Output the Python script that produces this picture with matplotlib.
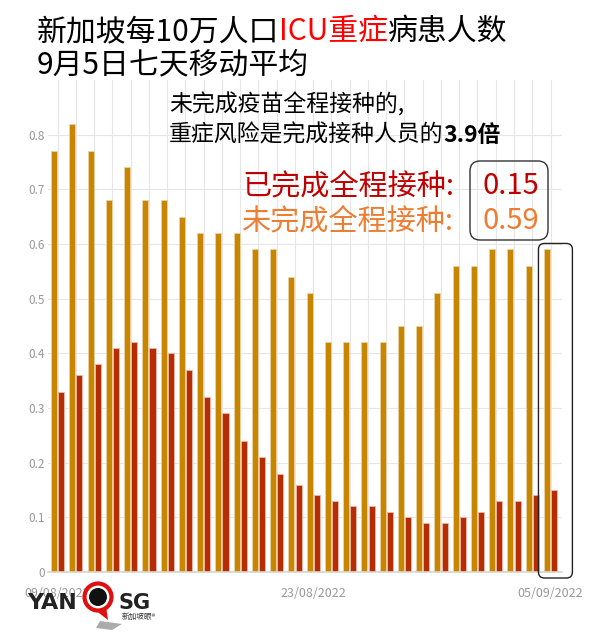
import numpy as np
import pandas as pd
import matplotlib
matplotlib.use("Agg")
import matplotlib.pyplot as plt
from matplotlib.patches import FancyBboxPatch, Circle, Polygon

plt.rcParams['font.family'] = ['Noto Sans CJK SC', 'DejaVu Sans']

# 7-day moving average of ICU cases per 100k, 09/08/2022 - 05/09/2022
dates = pd.date_range("2022-08-09", "2022-09-05").strftime("%d/%m/%Y").tolist()
unvax = [0.77, 0.82, 0.77, 0.68, 0.74, 0.68, 0.68, 0.65, 0.62, 0.62,
         0.62, 0.59, 0.59, 0.54, 0.51, 0.42, 0.42, 0.42, 0.42, 0.45,
         0.45, 0.51, 0.56, 0.56, 0.59, 0.59, 0.56, 0.59]
vax = [0.33, 0.36, 0.38, 0.41, 0.42, 0.41, 0.40, 0.37, 0.32, 0.29,
       0.24, 0.21, 0.18, 0.16, 0.14, 0.13, 0.12, 0.12, 0.11, 0.10,
       0.09, 0.09, 0.10, 0.11, 0.13, 0.13, 0.14, 0.15]
shown_dates = ["09/08/2022", "23/08/2022", "05/09/2022"]
yticks = [0, 0.1, 0.2, 0.3, 0.4, 0.5, 0.6, 0.7, 0.8]

ORANGE = "#C78500"
RED = "#B52C05"
TXT_RED = "#C00000"
TXT_ORANGE = "#ED7D31"
GRAY = "#999999"

W, H = 601, 644
fig = plt.figure(figsize=(W / 100, H / 100), dpi=100)
fig.patch.set_facecolor("white")

# main chart
ax = fig.add_axes([48 / W, 1 - 572 / H, (562 - 48) / W, (572 - 80) / H])
x = np.arange(len(dates))
ax.bar(x - 0.195, unvax, width=0.33, color=ORANGE, edgecolor="#EFD2A6",
       linewidth=0.6, zorder=3)
ax.bar(x + 0.195, vax, width=0.33, color=RED, edgecolor="#F0B8A8",
       linewidth=0.6, zorder=3)
ax.set_xlim(-0.53, 27.63)
ax.set_ylim(0, 0.9)
ax.set_yticks(yticks)
ax.set_yticklabels(["0" if v == 0 else f"{v:.1f}" for v in yticks])
ax.set_xticks(x)
ax.set_xticklabels([d if d in shown_dates else "" for d in dates])
ax.grid(True, color="#E6E6E6", linewidth=0.8, zorder=0)
for s in ["top", "right", "left"]:
    ax.spines[s].set_visible(False)
ax.spines["bottom"].set_color("#D5D5D5")
ax.spines["bottom"].set_linewidth(1.2)
ax.spines["bottom"].set_zorder(4)
ax.tick_params(axis="both", length=0, colors=GRAY, labelsize=8.5)
ax.tick_params(axis="x", pad=11, labelsize=9)
ax.tick_params(axis="y", pad=2)

# overlay in pixel coordinates for the texts and boxes
ov = fig.add_axes([0, 0, 1, 1], zorder=10)
ov.set_xlim(0, W)
ov.set_ylim(H, 0)
ov.axis("off")

renderer = fig.canvas.get_renderer()


def draw_runs(x0, y0, runs, size, weight="normal"):
    """Draw text pieces one after another on the same baseline."""
    xc = x0
    for s, color, w in runs:
        t = ov.text(xc, y0, s, color=color, fontsize=size, va="baseline",
                    ha="left", fontweight=w or weight)
        bb = t.get_window_extent(renderer=renderer)
        xc += bb.width


draw_runs(37, 40, [("新加坡每10万人口", "black", None),
                   ("ICU重症", "#FF0000", None),
                   ("病患人数", "black", None)], 21.5)
draw_runs(37, 73, [("9月5日七天移动平均", "black", None)], 21.5)

draw_runs(169, 112, [("未完成疫苗全程接种的,", "black", None)], 16.5)
draw_runs(169, 142, [("重症风险是完成接种人员的", "black", None),
                     ("3.9倍", "black", "bold")], 16.5)

ov.text(242, 194, "已完成全程接种:", color=TXT_RED, fontsize=21, va="baseline")
ov.text(242, 229, "未完成全程接种:", color=TXT_ORANGE, fontsize=21, va="baseline")
ov.text(482, 194, f"{vax[-1]:.2f}", color=TXT_RED, fontsize=21, va="baseline")
ov.text(482, 229, f"{unvax[-1]:.2f}", color=TXT_ORANGE, fontsize=21, va="baseline")
ov.add_patch(FancyBboxPatch((470, 161), 78, 79,
                            boxstyle="round,pad=0,rounding_size=10",
                            fill=False, ec="#333333", lw=1.0))

# box around the latest pair of bars
last = len(dates) - 1
p0 = ax.transData.transform((last - 0.66, 0))
p1 = ax.transData.transform((last + 1.2, unvax[-1]))
inv = ov.transData.inverted()
q0 = inv.transform(p0)
q1 = inv.transform(p1)
ov.add_patch(FancyBboxPatch((q0[0], q1[1] - 6), q1[0] - q0[0], q0[1] - q1[1] + 12,
                            boxstyle="round,pad=0,rounding_size=6",
                            fill=False, ec="#222222", lw=1.0))

# logo
ov.text(27, 609, "YAN", fontsize=16, fontweight="bold", color="#222222",
        family="DejaVu Sans", va="baseline")
ov.text(119, 609, "SG", fontsize=15, fontweight="bold", color="#222222",
        family="DejaVu Sans", va="baseline")
ov.add_patch(Polygon([[90, 606], [106, 606], [108, 620]], closed=True,
                     fc="#E01010", ec="none"))
ov.add_patch(Circle((98, 597), 15, fc="white", ec="none"))
ov.add_patch(Circle((98, 597), 13.5, fill=False, ec="#E01010", lw=3))
ov.add_patch(Circle((98, 597), 9, fc="#111111", ec="none"))
ov.add_patch(Polygon([[100, 621], [122, 624], [112, 630], [96, 628]], closed=True,
                     fc="#888888", ec="none", alpha=0.7))
ov.text(122, 617, "新加坡眼®", fontsize=5.5, color="#333333", va="center")

fig.savefig("out.png", dpi=100)
